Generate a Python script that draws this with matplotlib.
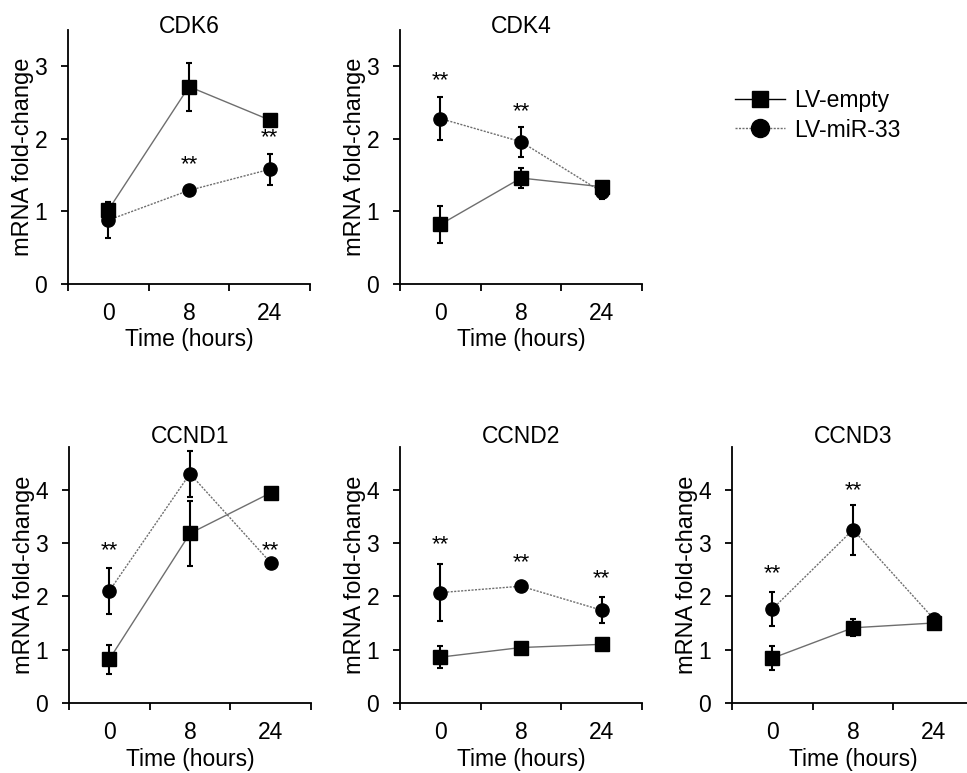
import matplotlib
matplotlib.use('Agg')
import matplotlib.pyplot as plt

plt.rcParams['font.family'] = ['Liberation Sans', 'DejaVu Sans']

times = ['0', '8', '24']
genes = ['CDK6', 'CDK4', 'CCND1', 'CCND2', 'CCND3']

empty_mean = {
    'CDK6': [1.02, 2.72, 2.26],
    'CDK4': [0.82, 1.46, 1.34],
    'CCND1': [0.82, 3.18, 3.94],
    'CCND2': [0.86, 1.04, 1.10],
    'CCND3': [0.84, 1.41, 1.50],
}
empty_err = {
    'CDK6': [0.11, 0.33, 0.03],
    'CDK4': [0.25, 0.14, 0.05],
    'CCND1': [0.27, 0.61, 0.04],
    'CCND2': [0.21, 0.09, 0.03],
    'CCND3': [0.22, 0.16, 0.04],
}
mir_mean = {
    'CDK6': [0.88, 1.29, 1.58],
    'CDK4': [2.28, 1.96, 1.27],
    'CCND1': [2.10, 4.30, 2.63],
    'CCND2': [2.07, 2.19, 1.74],
    'CCND3': [1.76, 3.25, 1.58],
}
mir_err = {
    'CDK6': [0.25, 0.03, 0.21],
    'CDK4': [0.29, 0.21, 0.10],
    'CCND1': [0.43, 0.43, 0.04],
    'CCND2': [0.54, 0.06, 0.24],
    'CCND3': [0.32, 0.47, 0.05],
}
# height of the "**" marks (None = no mark)
stars = {
    'CDK6': [None, 1.64, 2.01],
    'CDK4': [2.80, 2.38, None],
    'CCND1': [2.85, None, 2.85],
    'CCND2': [2.96, 2.63, 2.33],
    'CCND3': [2.43, 3.99, None],
}
ymax = {'CDK6': 3.5, 'CDK4': 3.5, 'CCND1': 4.8, 'CCND2': 4.8, 'CCND3': 4.8}
yticks = {'CDK6': [0, 1, 2, 3], 'CDK4': [0, 1, 2, 3],
          'CCND1': [0, 1, 2, 3, 4], 'CCND2': [0, 1, 2, 3, 4], 'CCND3': [0, 1, 2, 3, 4]}

W, H = 967, 773
fig = plt.figure(figsize=(W / 100, H / 100), dpi=100)

# axes boxes in pixels: left, top, right, bottom
boxes = {
    'CDK6': (68, 30, 310, 284),
    'CDK4': (400, 30, 642, 284),
    'CCND1': (69, 447, 311, 703),
    'CCND2': (400, 447, 642, 703),
    'CCND3': (732, 447, 974, 703),
}

xpos = [0.5, 1.5, 2.5]
line_col = '#6e6e6e'
fs = 16.5

for g in genes:
    l, t, r, b = boxes[g]
    ax = fig.add_axes([l / W, 1 - b / H, (r - l) / W, (b - t) / H])
    ax.errorbar(xpos, empty_mean[g], yerr=empty_err[g], fmt='none',
                ecolor='black', elinewidth=1.5, capsize=2.5, capthick=1.5, zorder=3)
    ax.errorbar(xpos, mir_mean[g], yerr=mir_err[g], fmt='none',
                ecolor='black', elinewidth=1.5, capsize=2.5, capthick=1.5, zorder=3)
    ax.plot(xpos, empty_mean[g], color=line_col, lw=1.0, ls='-', zorder=2)
    ax.plot(xpos, mir_mean[g], color=line_col, lw=1.0, ls=(0, (1.5, 1)), zorder=2)
    ax.plot(xpos, empty_mean[g], 's', color='black', ms=9.5, zorder=4)
    ax.plot(xpos, mir_mean[g], 'o', color='black', ms=9.5, zorder=4)
    for x, s in zip(xpos, stars[g]):
        if s is not None:
            ax.text(x, s, '**', ha='center', va='center', fontsize=16)

    ax.set_xlim(0, 3)
    ax.set_ylim(0, ymax[g])
    ax.set_xticks([0, 1, 2, 3])
    ax.set_xticklabels([])
    ax.set_xticks(xpos, minor=True)
    ax.set_xticklabels(times, minor=True)
    ax.tick_params(axis='x', which='major', direction='out', length=5, width=1.3)
    ax.tick_params(axis='x', which='minor', length=0, pad=13, labelsize=fs)
    ax.set_yticks(yticks[g])
    ax.tick_params(axis='y', direction='out', length=5, width=1.3, pad=10, labelsize=fs)
    ax.spines['top'].set_visible(False)
    ax.spines['right'].set_visible(False)
    ax.spines['left'].set_linewidth(1.3)
    ax.spines['bottom'].set_linewidth(1.3)
    ax.set_ylabel('mRNA fold-change', fontsize=17)
    ax.yaxis.set_label_coords(-0.142, 0.5)
    ax.set_xlabel('Time (hours)', fontsize=fs)
    ax.xaxis.set_label_coords(0.5, -0.175)
    # title baseline slightly inside the top of the axes (top row) or just above it
    ty = 1 - 3 / (b - t) if g.startswith('CDK') else 1 + 4 / (b - t)
    ax.set_title(g, fontsize=fs, y=ty, pad=0)

handles = [
    plt.Line2D([], [], color='black', lw=1.0, marker='s', ms=11, ls='-'),
    plt.Line2D([], [], color=line_col, lw=1.0, marker='o', ms=13,
               ls=(0, (1.5, 1)), markerfacecolor='black', markeredgecolor='black'),
]
fig.legend(handles, ['LV-empty', 'LV-miR-33'], loc='upper left',
           bbox_to_anchor=(714 / W, 1 - 68 / H), frameon=False, fontsize=fs,
           handlelength=2.2, handletextpad=0.4, labelspacing=0.3)

fig.savefig('out.png', dpi=100)
